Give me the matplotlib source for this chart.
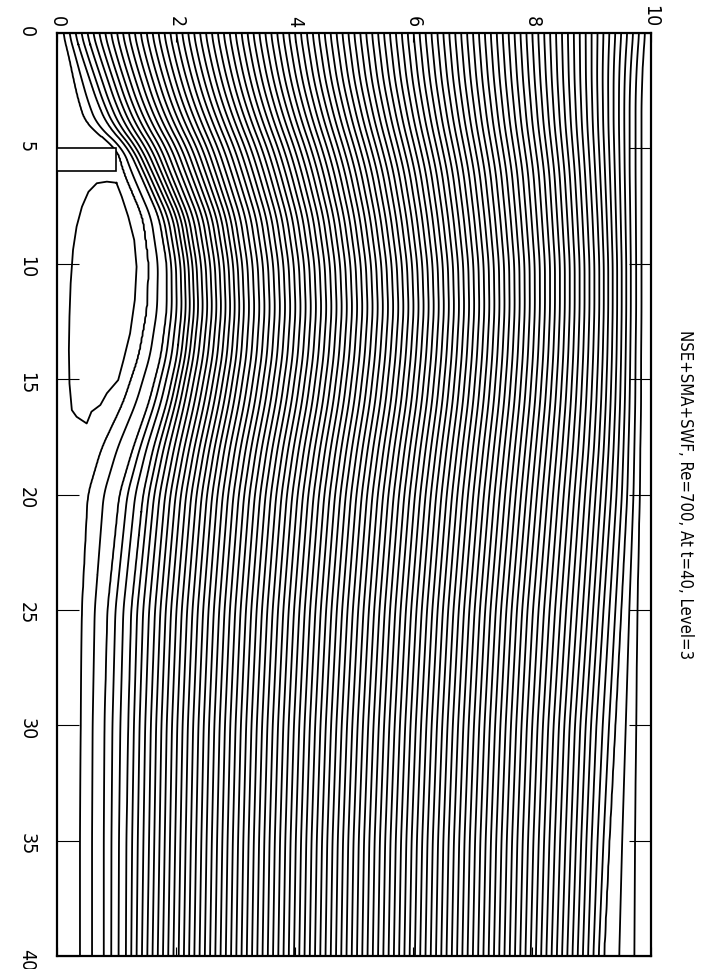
import numpy as np
import matplotlib
matplotlib.use("Agg")
from matplotlib import pyplot as plt
from matplotlib.patches import Rectangle

plt.rcParams['font.family'] = ['Liberation Sans Narrow', 'DejaVu Sans']
plt.rcParams['font.stretch'] = 'condensed'

# streamline positions (y across channel),
# one row per station along the channel, one column per psi value
x_st = np.array([0, 1, 2, 3, 4, 5, 6, 8, 10, 12, 14, 16, 18, 20, 25, 30, 35, 40])
psi_ref = np.array([0.1, 0.3, 0.6, 1.0, 2.0, 5.0, 8.0, 9.0, 9.4, 9.7, 9.9])
y_ref = np.array([
    [0.10, 0.30, 0.60, 1.00, 2.00, 5.00, 8.00, 9.00, 9.40, 9.70, 9.90],
    [0.20, 0.42, 0.72, 1.10, 2.08, 5.05, 8.02, 9.00, 9.38, 9.67, 9.87],
    [0.28, 0.55, 0.85, 1.22, 2.18, 5.10, 8.04, 9.00, 9.37, 9.65, 9.85],
    [0.37, 0.68, 0.98, 1.35, 2.30, 5.18, 8.07, 9.01, 9.37, 9.64, 9.84],
    [0.50, 0.85, 1.15, 1.52, 2.45, 5.27, 8.10, 9.02, 9.37, 9.64, 9.84],
    [1.02, 1.20, 1.42, 1.75, 2.62, 5.38, 8.15, 9.04, 9.38, 9.64, 9.84],
    [1.12, 1.38, 1.60, 1.90, 2.75, 5.48, 8.20, 9.06, 9.39, 9.64, 9.84],
    [1.45, 1.72, 1.95, 2.22, 3.00, 5.62, 8.25, 9.10, 9.41, 9.65, 9.84],
    [1.55, 1.85, 2.08, 2.35, 3.12, 5.72, 8.30, 9.13, 9.43, 9.66, 9.84],
    [1.52, 1.85, 2.10, 2.38, 3.15, 5.75, 8.30, 9.13, 9.43, 9.66, 9.84],
    [1.38, 1.75, 2.02, 2.30, 3.10, 5.70, 8.27, 9.11, 9.42, 9.65, 9.83],
    [1.12, 1.55, 1.85, 2.15, 2.98, 5.62, 8.22, 9.08, 9.40, 9.64, 9.83],
    [0.75, 1.28, 1.62, 1.97, 2.82, 5.50, 8.15, 9.04, 9.37, 9.62, 9.82],
    [0.52, 1.05, 1.45, 1.82, 2.70, 5.40, 8.08, 8.98, 9.33, 9.60, 9.81],
    [0.42, 0.85, 1.25, 1.65, 2.55, 5.25, 7.92, 8.85, 9.20, 9.50, 9.77],
    [0.40, 0.80, 1.20, 1.58, 2.47, 5.15, 7.82, 8.72, 9.08, 9.40, 9.75],
    [0.39, 0.79, 1.17, 1.55, 2.43, 5.08, 7.75, 8.65, 9.00, 9.30, 9.73],
    [0.39, 0.79, 1.16, 1.52, 2.40, 5.05, 7.71, 8.59, 8.94, 9.21, 9.72],
])

# recirculation bubble behind the step (outer side then inner side)
bub_x = np.array([6.49, 7.09, 7.96, 8.97, 10.13, 11.57, 13.02, 14.17, 15.04, 15.61, 16.12, 16.41, 16.92,
                  16.63, 16.34, 15.19, 13.74, 12.29, 10.85, 9.40, 8.39, 7.53, 6.88, 6.51, 6.44, 6.49])
bub_y = np.array([1.00, 1.09, 1.20, 1.30, 1.34, 1.31, 1.23, 1.12, 1.03, 0.84, 0.73, 0.58, 0.50,
                  0.33, 0.25, 0.21, 0.20, 0.21, 0.23, 0.27, 0.33, 0.42, 0.53, 0.67, 0.84, 1.00])

step_x = [5.0, 6.0]
step_y = [0.0, 1.0]

levels = np.arange(1, 100) * 0.1
title = "NSE+SMA+SWF, Re=700, At t=40, Level=3"

# build the stream function field from the read streamlines
xs = np.linspace(0, 40, 801)
ys = np.linspace(0, 10, 501)
yl = np.array([np.interp(xs, x_st, y_ref[:, j]) for j in range(len(psi_ref))])
k = np.ones(21) / 21
yl = np.array([np.convolve(np.pad(r, 10, mode='edge'), k, mode='valid') for r in yl])
psi = np.array([np.interp(ys, np.r_[0, yl[:, i], 10], np.r_[0, psi_ref, 10])
                for i in range(len(xs))])

fig = plt.figure(figsize=(7.08, 9.69), dpi=100)
ax = fig.add_axes([0.0805, 0.0134, 0.839, 0.9525])

ax.contour(ys, xs, psi, levels=levels, colors='black', linewidths=1.3)
ax.plot(bub_y, bub_x, color='black', lw=1.3)
ax.add_patch(Rectangle((step_y[0], step_x[0]), step_y[1] - step_y[0], step_x[1] - step_x[0],
                       facecolor='white', edgecolor='black', lw=1.2, zorder=3))

ax.set_xlim(0, 10)
ax.set_ylim(40, 0)
ax.xaxis.tick_top()
ax.set_xticks(np.arange(0, 11, 2))
ax.set_yticks(np.arange(0, 41, 5))
ax.tick_params(axis='x', direction='in', length=6.5, width=0.8, top=True, bottom=True,
               labeltop=True, labelbottom=False, pad=4, labelrotation=-90, labelsize=14)
ax.tick_params(axis='y', direction='in', length=16, width=0.8, left=True, right=True,
               pad=15, labelrotation=-90, labelsize=14)
for s in ax.spines.values():
    s.set_linewidth(1.6)

ax.text(1.057, 0.5, title, transform=ax.transAxes, rotation=-90,
        ha='center', va='center', fontsize=12)

fig.savefig('out.png', dpi=100)
